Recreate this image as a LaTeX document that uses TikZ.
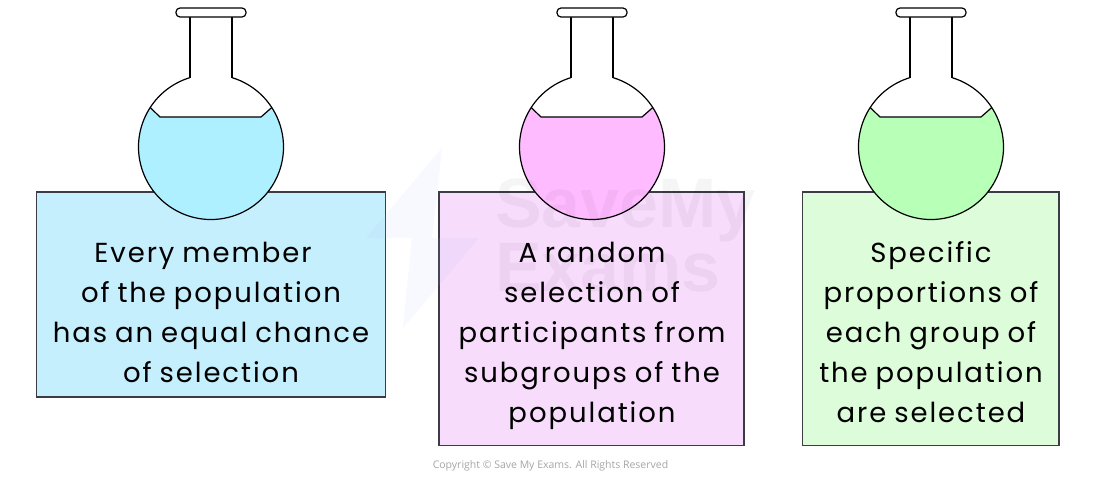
\documentclass[tikz,border=0pt]{standalone}
\usepackage{fontspec}
\setmainfont{Poppins}[LetterSpace=7,WordSpace=0.85]
\newfontfamily\wmfont{Liberation Sans}
\newfontfamily\crfont{Open Sans}
\definecolor{boxA}{HTML}{C5EFFD}
\definecolor{boxB}{HTML}{F7DCFB}
\definecolor{boxC}{HTML}{DDFCDA}
\definecolor{liqA}{HTML}{AEF0FF}
\definecolor{liqB}{HTML}{FFBBFF}
\definecolor{liqC}{HTML}{B8FFB8}
\definecolor{edge}{HTML}{3C3C46}
\tikzset{
  panel/.style={draw=edge,line width=1.4pt},
  caption/.style={align=center,font=\fontsize{27.5}{40}\selectfont,inner sep=0pt,text=black},
  glass/.style={draw=black,line width=1.2pt,line join=round},
  flask/.pic={
    \fill[white] (0,0) circle[radius=72.5];
    \fill[pic actions,draw=none] (213:72.5) arc[start angle=213,end angle=-33,radius=72.5] -- (50,-30) -- (-51,-30) -- cycle;
    \draw[glass] (213:72.5) -- (-51,-30) -- (50,-30) -- (-33:72.5);
    \fill[white] (-21,-80) rectangle (21,-60);
    \draw[glass] (-21,-69.4) -- (-21,-130) (21,-130) -- (21,-69.4);
    \draw[glass] (253.2:72.5) arc[start angle=253.2,end angle=-73.2,radius=72.5];
    \draw[glass,fill=white,rounded corners=4pt] (-35,-139) rectangle (35,-130);
  }
}
\begin{document}
\begin{tikzpicture}[x=1pt,y=-1pt]
\useasboundingbox (0,0) rectangle (1101,477);
\fill[white] (0,0) rectangle (1101,477);
\draw[panel,fill=boxA] (36.5,192) rectangle (385.5,397);
\draw[panel,fill=boxB] (439,192) rectangle (744,445.5);
\draw[panel,fill=boxC] (802.5,192) rectangle (1059,445.5);
\pic[fill=liqA] at (211,147) {flask};
\pic[fill=liqB] at (592,147) {flask};
\pic[fill=liqC] at (931,147) {flask};
% watermark
\fill[blue!30!white,opacity=.09] (442,148) -- (366,238) -- (412,238) -- (403,328) -- (479,238) -- (432,238) -- cycle;
\node[font=\wmfont\bfseries\fontsize{70}{64}\selectfont,text=black,opacity=.04,align=left,inner sep=0pt,anchor=north west] (mark) at (495,178) {SaveMy\\Exams};
\node[caption] (capA) at (211,312) {Every member\hspace*{16pt}\\of the population\\has an equal chance\\of selection};
\node[caption] (capB) at (592,336) {A random\\selection of\\participants from\\subgroups of the\\population};
\node[caption] (capC) at (931,332) {Specific\\proportions of\\each group of\\the population\\are selected};
\node[font=\crfont\fontsize{10.5}{12}\selectfont,text=black!35,inner sep=0pt] (copy) at (550.5,465.5) {Copyright © Save My Exams. All Rights Reserved};
\end{tikzpicture}
\end{document}
